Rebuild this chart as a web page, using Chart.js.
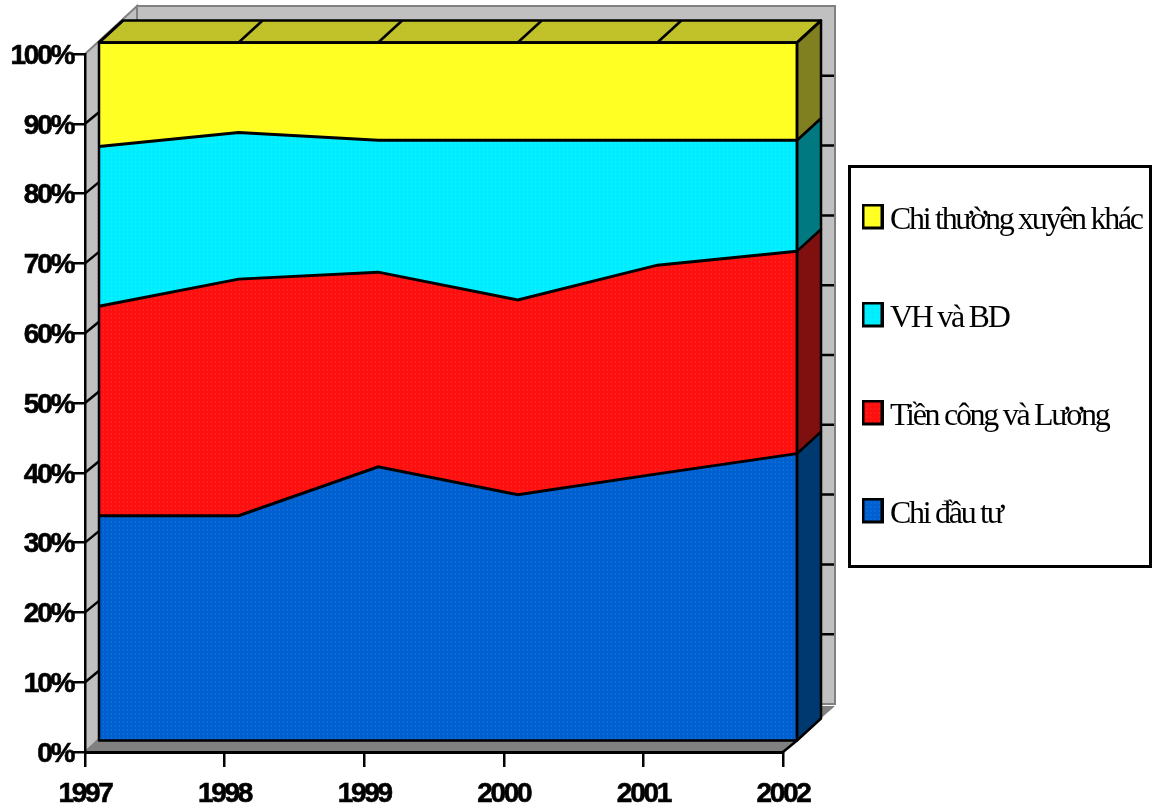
<!DOCTYPE html>
<html>
<head>
<meta charset="utf-8">
<style>
  html, body { margin: 0; padding: 0; background: #fff; }
  canvas { display: block; }
</style>
<script src="https://cdn.jsdelivr.net/npm/chart.js@4"></script>
</head>
<body>
<canvas id="chart" width="1155" height="804"></canvas>
<script>
const years = ['1997', '1998', '1999', '2000', '2001', '2002']
const chiDauTu = [32.2, 32.2, 39.2, 35.2, 38.2, 41.1]
const tienCong = [30.0, 33.9, 27.9, 27.9, 29.9, 29.0]
const vhBd = [22.9, 21.0, 18.9, 22.9, 17.9, 15.9]
const chiKhac = [14.9, 12.9, 14.0, 14.0, 14.0, 14.0]
const yTicks = [0, 10, 20, 30, 40, 50, 60, 70, 80, 90, 100]

// depth offsets of the fake 3d box, relative to the axis plane
const plane = { dx: 14, dy: -11.5 }
const depth = { dx: 24, dy: -22 }
const back = { dx: 52, dy: -48 }

const axisSpacing = '-2.3px'
const legendSpacing = '-2.3px'

const dotted = (base, dot) => {
  const c = document.createElement('canvas')
  c.width = c.height = 4
  const g = c.getContext('2d')
  g.fillStyle = base
  g.fillRect(0, 0, 4, 4)
  g.fillStyle = dot
  g.fillRect(1, 1, 1, 1)
  return document.createElement('canvas').getContext('2d').createPattern(c, 'repeat')
}

// extra empty rows at the bottom lift the box a little above the text middle
const swatch = (base, dot) => {
  const c = document.createElement('canvas')
  c.width = 22
  c.height = 34
  const g = c.getContext('2d')
  g.fillStyle = dotted(base, dot)
  g.fillRect(0, 0, 22, 26)
  g.strokeStyle = '#000'
  g.lineWidth = 3
  g.strokeRect(1.5, 1.5, 19, 23)
  return c
}

const makeSeries = (label, data, base, dot, side, fill) => ({
  label,
  data,
  side,
  fill,
  stack: 'share',
  backgroundColor: dotted(base, dot),
  borderColor: '#000',
  borderWidth: 3,
  tension: 0,
  pointRadius: 0,
  pointStyle: swatch(base, dot),
  clip: false
})

const box3d = {
  id: 'box3d',
  beforeDraw(chart) {
    const { ctx, chartArea: { left, right, top, bottom }, scales: { y } } = chart
    ctx.letterSpacing = axisSpacing
    ctx.save()
    // back wall, left wall, floor
    ctx.fillStyle = '#c0c0c0'
    ctx.strokeStyle = '#808080'
    ctx.lineWidth = 2
    ctx.fillRect(left + back.dx, top + back.dy, right - left, bottom - top)
    ctx.strokeRect(left + back.dx, top + back.dy, right - left, bottom - top)
    ctx.beginPath()
    ctx.moveTo(left, top)
    ctx.lineTo(left + back.dx, top + back.dy)
    ctx.lineTo(left + back.dx, bottom + back.dy)
    ctx.lineTo(left, bottom)
    ctx.closePath()
    ctx.fill()
    ctx.stroke()
    ctx.fillStyle = '#808080'
    ctx.beginPath()
    ctx.moveTo(left, bottom)
    ctx.lineTo(left + back.dx, bottom + back.dy + 2)
    ctx.lineTo(right + back.dx, bottom + back.dy + 2)
    ctx.lineTo(right, bottom)
    ctx.closePath()
    ctx.fill()
    // wall gridlines
    ctx.strokeStyle = '#000'
    ctx.lineWidth = 2.5
    yTicks.forEach(t => {
      if (t === 0 || t === 100) return
      const py = y.getPixelForValue(t)
      ctx.beginPath()
      ctx.moveTo(left, py)
      ctx.lineTo(left + plane.dx, py + plane.dy)
      ctx.moveTo(right + depth.dx + plane.dx, py + back.dy)
      ctx.lineTo(right + back.dx - 1, py + back.dy)
      ctx.stroke()
    })
    // legend frame
    ctx.fillStyle = '#fff'
    ctx.lineWidth = 3
    ctx.fillRect(849.5, 166.5, 301, 400)
    ctx.strokeRect(849.5, 166.5, 301, 400)
    ctx.restore()
  },
  afterLayout(chart) {
    const l = chart.legend
    l.left = 805
    l.right = 1152
    l.top = 138.5
    l.bottom = 800
    l.width = l.right - l.left
    l.height = l.bottom - l.top
    if (!l.drawPatched) {
      const draw = l.draw.bind(l)
      l.draw = () => {
        chart.ctx.letterSpacing = legendSpacing
        draw()
        chart.ctx.letterSpacing = axisSpacing
      }
      l.drawPatched = true
    }
  },
  beforeDatasetsDraw(chart) {
    chart.ctx.save()
    chart.ctx.translate(plane.dx, plane.dy)
  },
  afterDatasetsDraw(chart) {
    const { ctx, data, scales: { x, y } } = chart
    const last = years.length - 1
    const xl = x.getPixelForValue(0)
    const xr = x.getPixelForValue(last)
    ctx.lineJoin = 'round'
    ctx.strokeStyle = '#000'
    ctx.lineWidth = 2.5

    // right hand side faces, bottom to top
    let sum = 0
    data.datasets.forEach(ds => {
      const y0 = y.getPixelForValue(sum)
      sum += ds.data[last]
      const y1 = y.getPixelForValue(sum)
      ctx.fillStyle = ds.side
      ctx.beginPath()
      ctx.moveTo(xr, y0)
      ctx.lineTo(xr + depth.dx, y0 + depth.dy)
      ctx.lineTo(xr + depth.dx, y1 + depth.dy)
      ctx.lineTo(xr, y1)
      ctx.closePath()
      ctx.fill()
      ctx.stroke()
    })

    // top face with its category lines
    const yt = y.getPixelForValue(100)
    const yb = y.getPixelForValue(0)
    ctx.fillStyle = dotted('#c0c028', '#c8c838')
    ctx.beginPath()
    ctx.moveTo(xl, yt)
    ctx.lineTo(xl + depth.dx, yt + depth.dy)
    ctx.lineTo(xr + depth.dx, yt + depth.dy)
    ctx.lineTo(xr, yt)
    ctx.closePath()
    ctx.fill()
    ctx.stroke()
    years.forEach((yr, i) => {
      const px = x.getPixelForValue(i)
      ctx.beginPath()
      ctx.moveTo(px, yt)
      ctx.lineTo(px + depth.dx, yt + depth.dy)
      ctx.stroke()
    })

    // front plane outline and the edge down to the axis corner
    ctx.strokeRect(xl, yt, xr - xl, yb - yt)
    ctx.beginPath()
    ctx.moveTo(xr, yb)
    ctx.lineTo(xr - plane.dx, yb - plane.dy)
    ctx.stroke()
    ctx.restore()
  }
}

new Chart(document.getElementById('chart'), {
  type: 'line',
  data: {
    labels: years,
    datasets: [
      makeSeries('Chi đầu tư', chiDauTu, '#0060d0', '#2080e8', '#003870', 'origin'),
      makeSeries('Tiền công và Lương', tienCong, '#ff1010', '#ff3828', '#800f0f', '-1'),
      makeSeries('VH và BD', vhBd, '#00ecff', '#20f8ff', '#007a80', '-1'),
      makeSeries('Chi thường xuyên khác', chiKhac, '#ffff20', '#ffff60', '#808020', '-1')
    ]
  },
  options: {
    responsive: false,
    animation: false,
    events: [],
    layout: {
      autoPadding: false,
      padding: { left: 0, top: 54, right: 372, bottom: 0 }
    },
    scales: {
      x: {
        type: 'category',
        offset: false,
        border: { color: '#000', width: 3 },
        grid: { drawOnChartArea: false, color: '#000', lineWidth: 2.5, tickLength: 15 },
        ticks: {
          color: '#000',
          maxRotation: 0,
          autoSkip: false,
          padding: 10,
          textStrokeColor: '#000',
          textStrokeWidth: 0.6,
          font: { family: '"Liberation Sans"', size: 28, weight: 'bold' }
        },
        afterFit(scale) { scale.height = 52 }
      },
      y: {
        stacked: true,
        min: 0,
        max: 100,
        border: { color: '#000', width: 2.5 },
        grid: { drawOnChartArea: false, color: '#000', lineWidth: 2.5, tickLength: 12 },
        afterBuildTicks(scale) { scale.ticks = yTicks.map(value => ({ value })) },
        ticks: {
          color: '#000',
          padding: 0,
          labelOffset: 2,
          textStrokeColor: '#000',
          textStrokeWidth: 0.6,
          callback: v => v + '%',
          font: { family: '"Liberation Sans"', size: 28, weight: 'bold' }
        },
        afterFit(scale) { scale.width = 85 }
      }
    },
    plugins: {
      title: { display: false },
      tooltip: { enabled: false },
      filler: { propagate: false },
      legend: {
        position: 'chartArea',
        align: 'start',
        reverse: true,
        labels: {
          usePointStyle: true,
          pointStyleWidth: 3,
          padding: 66,
          color: '#000',
          font: { family: '"Liberation Serif"', size: 32 }
        }
      }
    }
  },
  plugins: [box3d]
})
</script>
</body>
</html>
